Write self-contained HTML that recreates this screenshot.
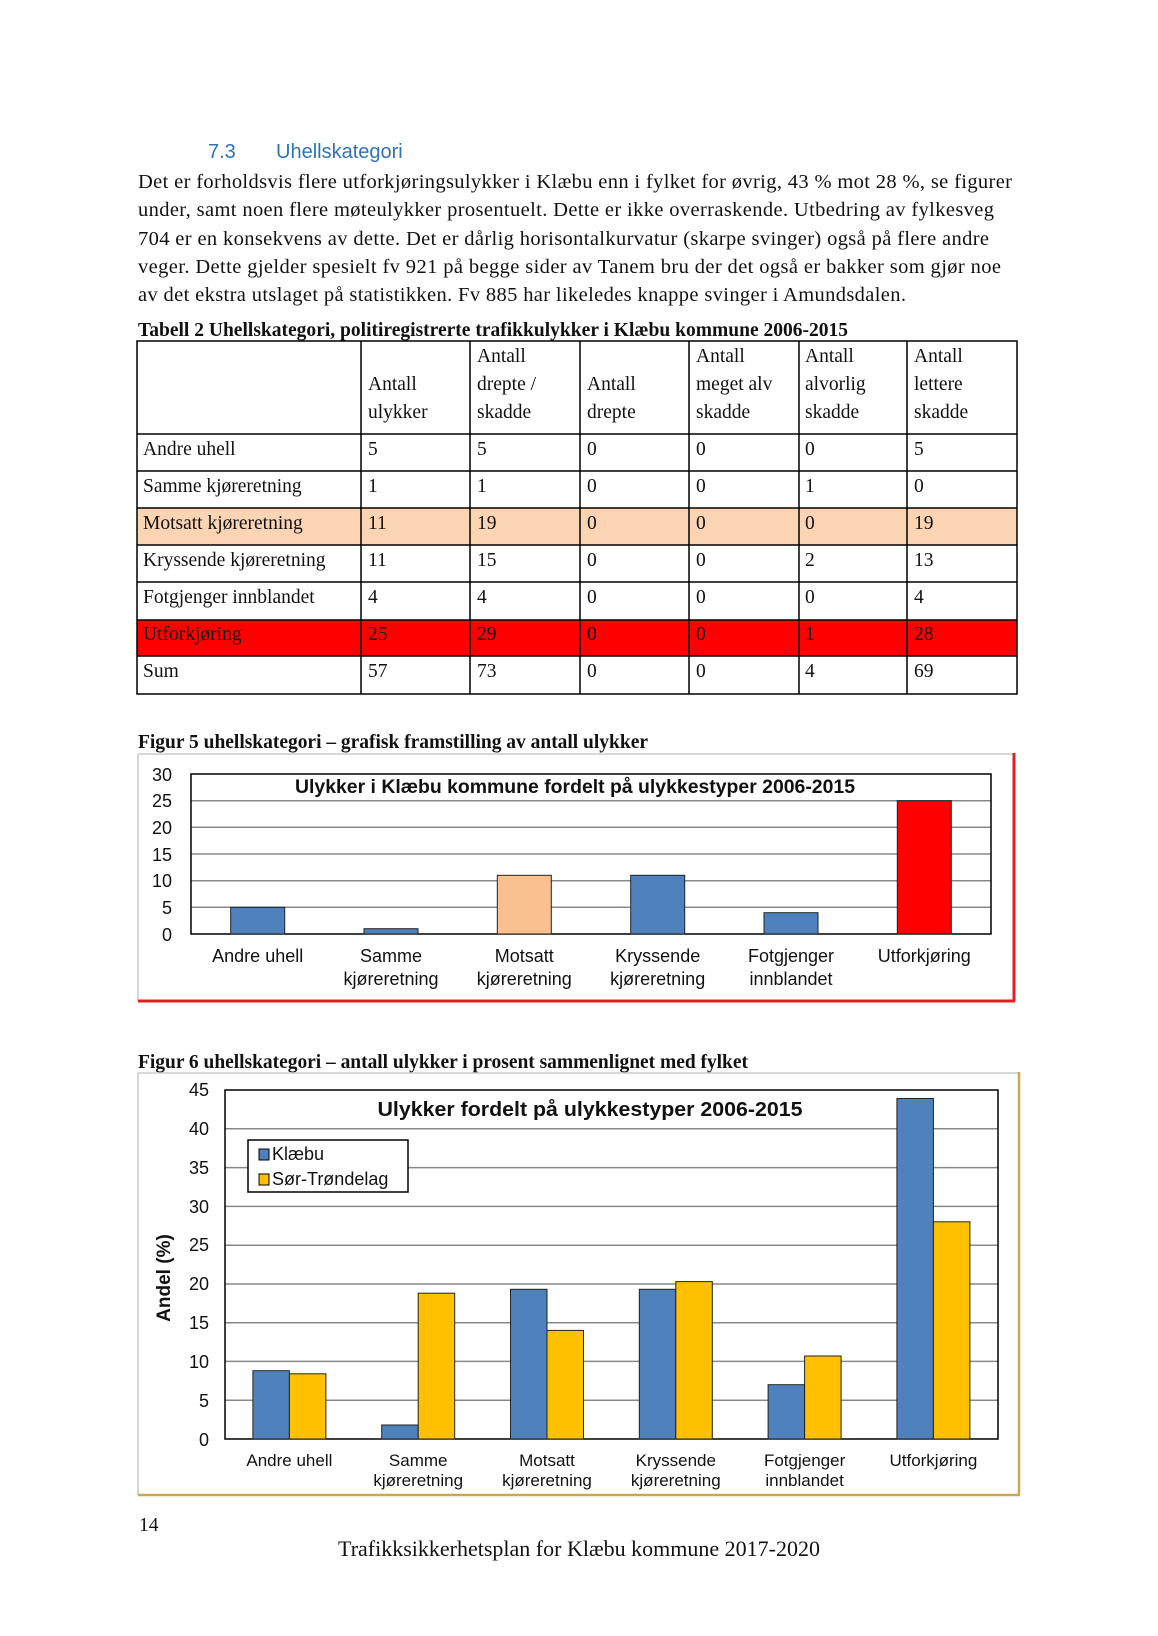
<!DOCTYPE html>
<html><head><meta charset="utf-8"><style>
html,body{margin:0;padding:0;background:#fff;}
svg{display:block;}
.t{font-family:"Liberation Serif",serif;font-size:19.5px;fill:#111;}
.s{font-family:"Liberation Sans",sans-serif;fill:#111;}
.p{font-family:"Liberation Serif",serif;font-size:20.5px;fill:#111;}
</style></head><body>
<svg width="1158" height="1636" viewBox="0 0 1158 1636" xmlns="http://www.w3.org/2000/svg">
<rect width="1158" height="1636" fill="#fff"/>
<text x="208" y="158" font-family="Liberation Sans,sans-serif" font-size="20" fill="#2e74b5">7.3</text>
<text x="276" y="158" font-family="Liberation Sans,sans-serif" font-size="20" fill="#2e74b5">Uhellskategori</text>
<g class="p">
<text x="138" y="188" textLength="874" lengthAdjust="spacing">Det er forholdsvis flere utforkjøringsulykker i Klæbu enn i fylket for øvrig, 43 % mot 28 %, se figurer</text>
<text x="138" y="216" textLength="856" lengthAdjust="spacing">under, samt noen flere møteulykker prosentuelt. Dette er ikke overraskende. Utbedring av fylkesveg</text>
<text x="138" y="245" textLength="851" lengthAdjust="spacing">704 er en konsekvens av dette. Det er dårlig horisontalkurvatur (skarpe svinger) også på flere andre</text>
<text x="138" y="273" textLength="863" lengthAdjust="spacing">veger. Dette gjelder spesielt fv 921 på begge sider av Tanem bru der det også er bakker som gjør noe</text>
<text x="138" y="301" textLength="768" lengthAdjust="spacing">av det ekstra utslaget på statistikken. Fv 885 har likeledes knappe svinger i Amundsdalen.</text>
</g>
<text class="t" x="138" y="336" font-weight="bold" textLength="710" lengthAdjust="spacing">Tabell 2 Uhellskategori, politiregistrerte trafikkulykker i Klæbu kommune 2006-2015</text>
<!-- table -->
<rect x="137" y="508" width="880" height="37" fill="#fbd4b4"/>
<rect x="137" y="620" width="880" height="36" fill="#ff0000"/>
<g stroke="#000" stroke-width="1.5" fill="none">
<rect x="137" y="341" width="880" height="353"/>
<line x1="137" y1="434" x2="1017" y2="434"/><line x1="137" y1="471" x2="1017" y2="471"/>
<line x1="137" y1="508" x2="1017" y2="508"/><line x1="137" y1="545" x2="1017" y2="545"/>
<line x1="137" y1="582" x2="1017" y2="582"/><line x1="137" y1="620" x2="1017" y2="620"/>
<line x1="137" y1="656" x2="1017" y2="656"/>
<line x1="361" y1="341" x2="361" y2="694"/><line x1="470" y1="341" x2="470" y2="694"/>
<line x1="580" y1="341" x2="580" y2="694"/><line x1="689" y1="341" x2="689" y2="694"/>
<line x1="799" y1="341" x2="799" y2="694"/><line x1="907" y1="341" x2="907" y2="694"/>
</g>
<g class="t">
<text x="368" y="390">Antall</text><text x="368" y="418">ulykker</text>
<text x="477" y="362">Antall</text><text x="477" y="390">drepte /</text><text x="477" y="418">skadde</text>
<text x="587" y="390">Antall</text><text x="587" y="418">drepte</text>
<text x="696" y="362">Antall</text><text x="696" y="390">meget alv</text><text x="696" y="418">skadde</text>
<text x="805" y="362">Antall</text><text x="805" y="390">alvorlig</text><text x="805" y="418">skadde</text>
<text x="914" y="362">Antall</text><text x="914" y="390">lettere</text><text x="914" y="418">skadde</text>
</g>
<g class="t">
<text x="143" y="455">Andre uhell</text><text x="368" y="455">5</text><text x="477" y="455">5</text><text x="587" y="455">0</text><text x="696" y="455">0</text><text x="805" y="455">0</text><text x="914" y="455">5</text>
<text x="143" y="492">Samme kjøreretning</text><text x="368" y="492">1</text><text x="477" y="492">1</text><text x="587" y="492">0</text><text x="696" y="492">0</text><text x="805" y="492">1</text><text x="914" y="492">0</text>
<text x="143" y="529">Motsatt kjøreretning</text><text x="368" y="529">11</text><text x="477" y="529">19</text><text x="587" y="529">0</text><text x="696" y="529">0</text><text x="805" y="529">0</text><text x="914" y="529">19</text>
<text x="143" y="566">Kryssende kjøreretning</text><text x="368" y="566">11</text><text x="477" y="566">15</text><text x="587" y="566">0</text><text x="696" y="566">0</text><text x="805" y="566">2</text><text x="914" y="566">13</text>
<text x="143" y="603">Fotgjenger innblandet</text><text x="368" y="603">4</text><text x="477" y="603">4</text><text x="587" y="603">0</text><text x="696" y="603">0</text><text x="805" y="603">0</text><text x="914" y="603">4</text>
<text x="143" y="640">Utforkjøring</text><text x="368" y="640">25</text><text x="477" y="640">29</text><text x="587" y="640">0</text><text x="696" y="640">0</text><text x="805" y="640">1</text><text x="914" y="640">28</text>
<text x="143" y="677">Sum</text><text x="368" y="677">57</text><text x="477" y="677">73</text><text x="587" y="677">0</text><text x="696" y="677">0</text><text x="805" y="677">4</text><text x="914" y="677">69</text>
</g>
<text class="t" x="138" y="748" font-weight="bold" textLength="510" lengthAdjust="spacing">Figur 5 uhellskategori – grafisk framstilling av antall ulykker</text>
<!-- chart 1 -->
<line x1="138" y1="754" x2="1014" y2="754" stroke="#ccc" stroke-width="1.5"/>
<line x1="138" y1="754" x2="138" y2="1001" stroke="#ccc" stroke-width="1.5"/>
<line x1="1014" y1="753" x2="1014" y2="1001" stroke="#e0201f" stroke-width="3"/>
<line x1="138" y1="1001" x2="1015" y2="1001" stroke="#e0201f" stroke-width="3"/>
<g stroke="#888" stroke-width="1.5">
<line x1="191" y1="800.7" x2="991" y2="800.7"/><line x1="191" y1="827.3" x2="991" y2="827.3"/>
<line x1="191" y1="854" x2="991" y2="854"/><line x1="191" y1="880.7" x2="991" y2="880.7"/>
<line x1="191" y1="907.3" x2="991" y2="907.3"/>
</g>
<rect x="191" y="774" width="800" height="160" fill="none" stroke="#000" stroke-width="1.5"/>
<g stroke="#222" stroke-width="1">
<rect x="230.7" y="907.3" width="54" height="26.7" fill="#4f81bd"/>
<rect x="364" y="928.7" width="54" height="5.3" fill="#4f81bd"/>
<rect x="497.3" y="875.3" width="54" height="58.7" fill="#fac090"/>
<rect x="630.7" y="875.3" width="54" height="58.7" fill="#4f81bd"/>
<rect x="764" y="912.7" width="54" height="21.3" fill="#4f81bd"/>
<rect x="897.3" y="800.7" width="54" height="133.3" fill="#ff0000"/>
</g>
<g class="s" font-size="18" text-anchor="end">
<text x="172" y="781">30</text><text x="172" y="807">25</text><text x="172" y="834">20</text>
<text x="172" y="861">15</text><text x="172" y="887">10</text><text x="172" y="914">5</text><text x="172" y="941">0</text>
</g>
<text class="s" x="575" y="793" font-size="19" font-weight="bold" text-anchor="middle" textLength="560" lengthAdjust="spacingAndGlyphs">Ulykker i Klæbu kommune fordelt på ulykkestyper 2006-2015</text>
<g class="s" font-size="18" text-anchor="middle">
<text x="257.7" y="962">Andre uhell</text>
<text x="391" y="962">Samme</text><text x="391" y="985">kjøreretning</text>
<text x="524.3" y="962">Motsatt</text><text x="524.3" y="985">kjøreretning</text>
<text x="657.7" y="962">Kryssende</text><text x="657.7" y="985">kjøreretning</text>
<text x="791" y="962">Fotgjenger</text><text x="791" y="985">innblandet</text>
<text x="924.3" y="962">Utforkjøring</text>
</g>
<text class="t" x="138" y="1068" font-weight="bold" textLength="610" lengthAdjust="spacing">Figur 6 uhellskategori – antall ulykker i prosent sammenlignet med fylket</text>
<!-- chart 2 -->
<line x1="138" y1="1073" x2="1019" y2="1073" stroke="#ccc" stroke-width="1.5"/>
<line x1="138" y1="1073" x2="138" y2="1495" stroke="#ccc" stroke-width="1.5"/>
<line x1="1019" y1="1072" x2="1019" y2="1495" stroke="#c8a850" stroke-width="2.5"/>
<line x1="138" y1="1495" x2="1020" y2="1495" stroke="#c8a850" stroke-width="2.5"/>
<g stroke="#888" stroke-width="1.5">
<line x1="225" y1="1128.8" x2="998" y2="1128.8"/><line x1="225" y1="1167.6" x2="998" y2="1167.6"/>
<line x1="225" y1="1206.4" x2="998" y2="1206.4"/><line x1="225" y1="1245.2" x2="998" y2="1245.2"/>
<line x1="225" y1="1284" x2="998" y2="1284"/><line x1="225" y1="1322.7" x2="998" y2="1322.7"/>
<line x1="225" y1="1361.4" x2="998" y2="1361.4"/><line x1="225" y1="1400.2" x2="998" y2="1400.2"/>
</g>
<rect x="225" y="1090" width="773" height="349" fill="none" stroke="#000" stroke-width="1.5"/>
<g stroke="#222" stroke-width="1">
<rect x="252.9" y="1370.7" width="36.5" height="68.3" fill="#4f81bd"/>
<rect x="289.4" y="1373.8" width="36.5" height="65.2" fill="#ffc000"/>
<rect x="381.7" y="1425" width="36.5" height="14" fill="#4f81bd"/>
<rect x="418.2" y="1293.2" width="36.5" height="145.8" fill="#ffc000"/>
<rect x="510.5" y="1289.3" width="36.5" height="149.7" fill="#4f81bd"/>
<rect x="547" y="1330.4" width="36.5" height="108.6" fill="#ffc000"/>
<rect x="639.3" y="1289.3" width="36.5" height="149.7" fill="#4f81bd"/>
<rect x="675.8" y="1281.6" width="36.5" height="157.4" fill="#ffc000"/>
<rect x="768.1" y="1384.7" width="36.5" height="54.3" fill="#4f81bd"/>
<rect x="804.6" y="1356" width="36.5" height="83" fill="#ffc000"/>
<rect x="896.9" y="1098.5" width="36.5" height="340.5" fill="#4f81bd"/>
<rect x="933.4" y="1221.8" width="36.5" height="217.2" fill="#ffc000"/>
</g>
<g class="s" font-size="18" text-anchor="end">
<text x="209" y="1096">45</text><text x="209" y="1135">40</text><text x="209" y="1174">35</text>
<text x="209" y="1213">30</text><text x="209" y="1251">25</text><text x="209" y="1290">20</text>
<text x="209" y="1329">15</text><text x="209" y="1368">10</text><text x="209" y="1407">5</text><text x="209" y="1446">0</text>
</g>
<text class="s" x="170" y="1278" font-size="19" font-weight="bold" text-anchor="middle" transform="rotate(-90 170 1278)">Andel (%)</text>
<text class="s" x="590" y="1116" font-size="20" font-weight="bold" text-anchor="middle" textLength="425" lengthAdjust="spacingAndGlyphs">Ulykker fordelt på ulykkestyper 2006-2015</text>
<rect x="248" y="1140" width="160" height="52" fill="#fff" stroke="#000" stroke-width="1.5"/>
<rect x="259" y="1149" width="10" height="11" fill="#4f81bd" stroke="#000"/>
<rect x="259" y="1174" width="10" height="11" fill="#ffc000" stroke="#000"/>
<text class="s" x="272" y="1160" font-size="18">Klæbu</text>
<text class="s" x="272" y="1185" font-size="18">Sør-Trøndelag</text>
<g class="s" font-size="17" text-anchor="middle">
<text x="289.4" y="1466">Andre uhell</text>
<text x="418.2" y="1466">Samme</text><text x="418.2" y="1486">kjøreretning</text>
<text x="547" y="1466">Motsatt</text><text x="547" y="1486">kjøreretning</text>
<text x="675.8" y="1466">Kryssende</text><text x="675.8" y="1486">kjøreretning</text>
<text x="804.6" y="1466">Fotgjenger</text><text x="804.6" y="1486">innblandet</text>
<text x="933.4" y="1466">Utforkjøring</text>
</g>
<text class="t" x="139" y="1531">14</text>
<text x="579" y="1556" text-anchor="middle" style="font-family:'Liberation Serif',serif;font-size:22px;fill:#111">Trafikksikkerhetsplan for Klæbu kommune 2017-2020</text>
</svg>
</body></html>
